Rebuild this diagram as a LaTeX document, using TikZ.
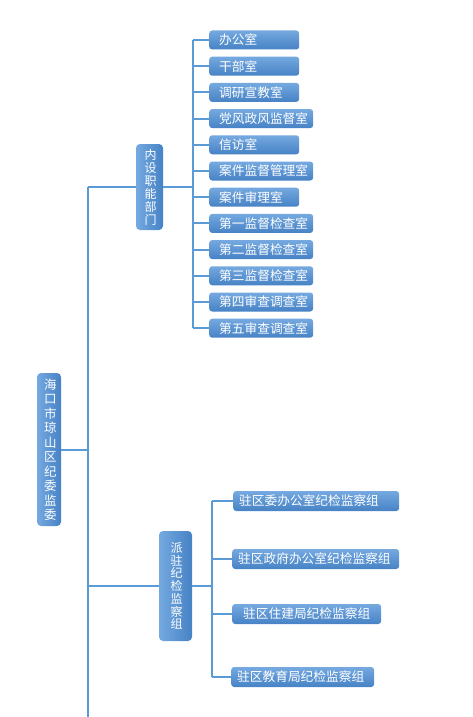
\documentclass[tikz,border=0pt]{standalone}
\usepackage{fontspec}
\newfontfamily\cjk{Noto Sans CJK SC}
\usetikzlibrary{positioning}
\definecolor{boxtop}{HTML}{75A9E0}
\definecolor{boxbot}{HTML}{4682C5}
\definecolor{linkblue}{HTML}{5B9BD5}

\begin{document}
\begin{tikzpicture}[
  x=1pt, y=-1pt,
  font=\cjk\fontsize{12.7}{14}\selectfont,
  room/.style={rounded corners=3pt, text=white,
               top color=boxtop, bottom color=boxbot,
               anchor=west, align=left, inner xsep=10pt, inner ysep=0pt,
               minimum height=19pt, text width=70pt},
  longroom/.style={room, text width=84pt},
  grp/.style={room, minimum height=20pt, inner xsep=6pt},
  vbox/.style={rounded corners=4pt, text=white,
               left color=boxtop, right color=boxbot,
               align=center, inner xsep=0pt, text width=1em},
  link/.style={draw=linkblue, line width=2pt},
]
  \useasboundingbox (0,0) rectangle (472,717);

  % top level
  \node[vbox, minimum width=24pt, minimum height=153pt,
        font=\cjk\fontsize{12.5}{14.5}\selectfont] (root) at (49,449.5)
        {海\\口\\市\\琼\\山\\区\\纪\\委\\监\\委};
  \coordinate (trunktop) at (88,187);
  \coordinate (trunkbot) at (88,717);

  % second level
  \node[vbox, minimum width=27pt, minimum height=86pt,
        font=\cjk\fontsize{12}{13}\selectfont] (nei) at (149.5,187)
        {内\\设\\职\\能\\部\\门};
  \node[vbox, minimum width=33pt, minimum height=110pt,
        font=\cjk\fontsize{12}{12.7}\selectfont] (pai) at (175.5,586)
        {派\\驻\\纪\\检\\监\\察\\组};
  \coordinate (nbus) at (193,0);
  \coordinate (pbus) at (212,0);

  % internal departments
  \node[room] (o1) at (209,40) {办公室};
  \node[room, below=6.8pt of o1.south west, anchor=north west] (o2) {干部室};
  \node[room, below=6.8pt of o2.south west, anchor=north west] (o3) {调研宣教室};
  \node[longroom, below=6.8pt of o3.south west, anchor=north west] (o4) {党风政风监督室};
  \node[room, below=6.8pt of o4.south west, anchor=north west] (o5) {信访室};
  \node[longroom, below=6.8pt of o5.south west, anchor=north west] (o6) {案件监督管理室};
  \node[room, below=6.8pt of o6.south west, anchor=north west] (o7) {案件审理室};
  \node[longroom, below=6.8pt of o7.south west, anchor=north west] (o8) {第一监督检查室};
  \node[longroom, below=6.8pt of o8.south west, anchor=north west] (o9) {第二监督检查室};
  \node[longroom, below=6.8pt of o9.south west, anchor=north west] (o10) {第三监督检查室};
  \node[longroom, below=6.8pt of o10.south west, anchor=north west] (o11) {第四审查调查室};
  \node[longroom, below=6.8pt of o11.south west, anchor=north west] (o12) {第五审查调查室};

  % stationed groups
  \node[grp, text width=154pt] (g1) at (233,501) {驻区委办公室纪检监察组};
  \node[grp, text width=155pt] (g2) at (232,559) {驻区政府办公室纪检监察组};
  \node[grp, inner xsep=11pt, text width=127pt] (g3) at (232,614) {驻区住建局纪检监察组};
  \node[grp, text width=131pt] (g4) at (231,677) {驻区教育局纪检监察组};

  % connectors
  \draw[link] (trunktop) -- (trunkbot);
  \draw[link] (root.east) -- (root.east -| trunktop);
  \draw[link] (nei.west) -- (nei.west -| trunktop);
  \draw[link] (pai.west) -- (pai.west -| trunktop);
  \draw[link] (nei.east) -- (nei.east -| nbus);
  \draw[link] (o1.west -| nbus) -- (o12.west -| nbus);
  \foreach \i in {1,...,12}
    \draw[link] (o\i.west -| nbus) -- (o\i.west);
  \draw[link] (pai.east) -- (pai.east -| pbus);
  \draw[link] (g1.west -| pbus) -- (g4.west -| pbus);
  \foreach \i in {1,...,4}
    \draw[link] (g\i.west -| pbus) -- (g\i.west);
\end{tikzpicture}
\end{document}
